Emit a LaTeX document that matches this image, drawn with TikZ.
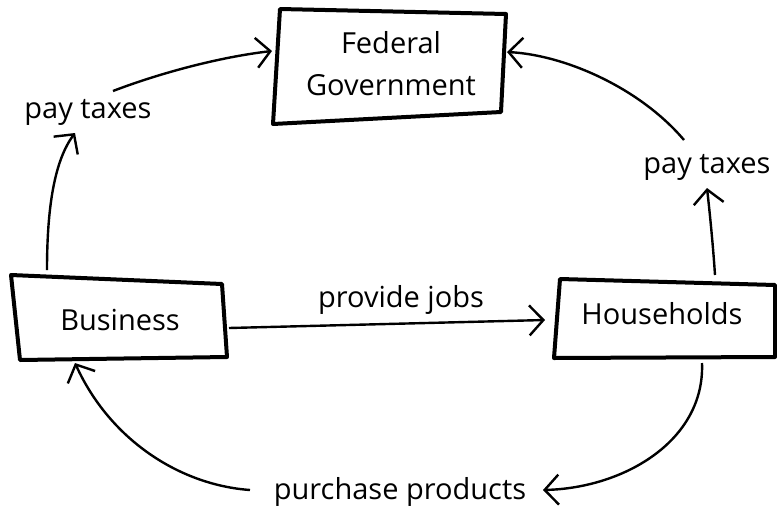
\documentclass[tikz,border=0pt]{standalone}
\usepackage{fontspec}
\setmainfont{Open Sans}
\usetikzlibrary{arrows.meta}
\begin{document}
\begin{tikzpicture}[x=1pt,y=-1pt,
  lbl/.style={font=\fontsize{29}{36}\selectfont, inner sep=0pt},
  boxline/.style={line width=4pt, line join=round},
  conn/.style={line width=2.4pt, -{Straight Barb[length=14pt,width=30pt,line width=2.4pt]}},
  plain/.style={line width=2.4pt}]
\useasboundingbox (0,0) rectangle (777,512);
% boxes
\draw[boxline] (280,9) -- (506,14) -- (501,112) -- (273,124) -- cycle;
\draw[boxline] (11,275) -- (222,284) -- (227,357) -- (20,360) -- cycle;
\draw[boxline] (560,279) -- (775,285) -- (775,357) -- (554,358) -- cycle;
% nodes
\node[lbl, align=center] (fed) at (391,64) {Federal\\[6pt]Government};
\node[lbl] (bus) at (120,320) {Business};
\node[lbl] (hh) at (662,314) {Households};
\node[lbl] (ptl) at (88,112) {pay taxes};
\node[lbl] (ptr) at (707,167) {pay taxes};
\node[lbl] (jobs) at (401,300) {provide jobs};
\node[lbl] (pp) at (400,492) {purchase products};
% anchor coordinates
\coordinate (busT) at (47,270);
\coordinate (busR) at (229,328);
\coordinate (busB) at (75,363);
\coordinate (hhT) at (715,275);
\coordinate (hhL) at (545,320);
\coordinate (hhB) at (702,363);
\coordinate (fedL) at (272,51);
\coordinate (fedR) at (507,52);
\coordinate (ptlB) at (75,133);
\coordinate (ptlR) at (113,91);
\coordinate (ptrB) at (707,188);
\coordinate (ptrT) at (684,140);
\coordinate (ppR) at (543,490);
\coordinate (ppL) at (250,490);
% connectors
\draw[conn] (busT) .. controls (47,205) and (55,160) .. (ptlB);
\draw[conn] (ptlR) .. controls (160,73) and (220,57) .. (fedL);
\draw[conn] (hhT) .. controls (713,245) and (710,215) .. (ptrB);
\draw[conn] (ptrT) .. controls (640,88) and (565,55) .. (fedR);
\draw[conn] (busR) -- (hhL);
\draw[conn] (hhB) .. controls (705,440) and (625,488) .. (ppR);
\draw[conn] (ppL) .. controls (180,485) and (110,440) .. (busB);
\end{tikzpicture}
\end{document}
